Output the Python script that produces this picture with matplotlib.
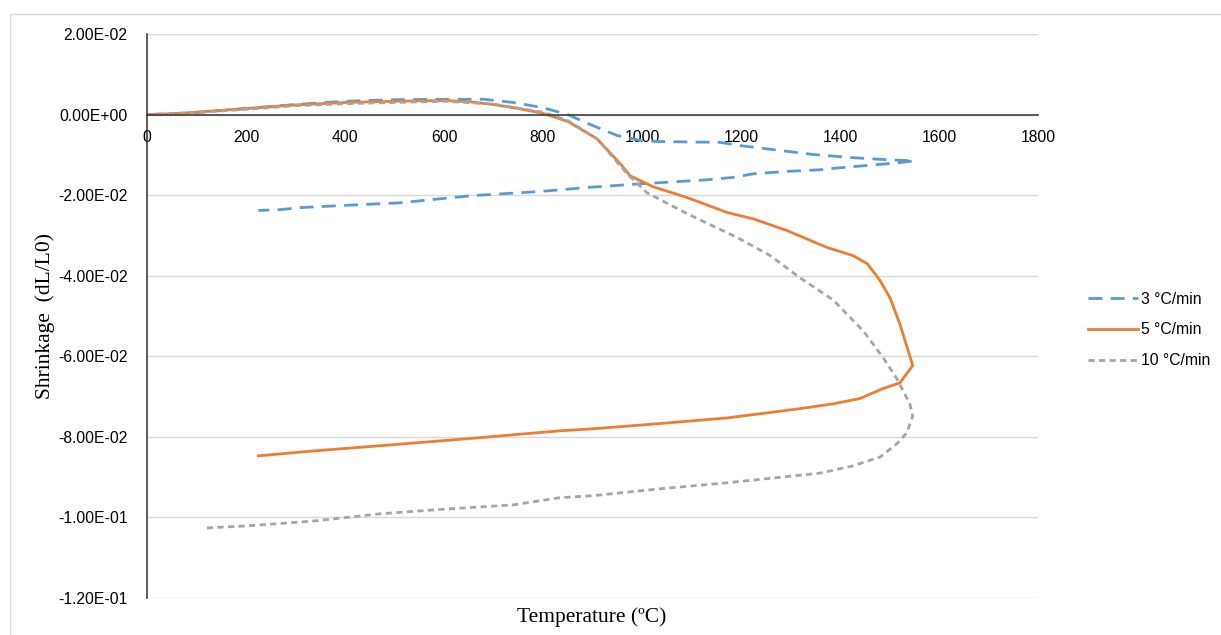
import matplotlib
matplotlib.use("Agg")
import matplotlib.pyplot as plt
from matplotlib.patches import Rectangle
from matplotlib.ticker import FuncFormatter

# ---- data ----
t_3 = [0, 50, 100, 200, 300, 400, 500, 600, 680, 740, 800, 850, 890, 950, 1000, 1036,
       1158, 1198, 1265, 1345, 1426, 1495, 1550,
       1515, 1400, 1360, 1293, 1225, 1184, 1131, 1077, 996, 889, 794, 659, 592, 511, 390, 309, 269, 225]
s_3 = [0, 0.0002, 0.0005, 0.0015, 0.0025, 0.0033, 0.0037, 0.0038, 0.0038, 0.0030, 0.0017, 0.0, -0.0022, -0.0052, -0.0065, -0.0067,
       -0.0069, -0.0077, -0.0087, -0.0099, -0.0107, -0.0112, -0.0115,
       -0.0120, -0.0132, -0.0137, -0.0141, -0.0147, -0.0156, -0.0162, -0.0166, -0.0172, -0.0181, -0.0191, -0.0201, -0.0209, -0.0219, -0.0226, -0.0231, -0.0236, -0.0238]

t_5 = [0, 50, 100, 200, 300, 400, 500, 600, 650, 700, 750, 800, 850, 909, 956, 976, 1022, 1091, 1172, 1225, 1293,
       1374, 1426, 1455, 1481, 1501, 1521, 1547,
       1521, 1487, 1440, 1386, 1319, 1172, 1036, 901, 834, 673, 471, 336, 225]
s_5 = [0, 0.0002, 0.0006, 0.0015, 0.0024, 0.0030, 0.0033, 0.0035, 0.0032, 0.0025, 0.0015, 0.0003, -0.0017, -0.0060, -0.0122, -0.0152, -0.0179, -0.0206, -0.0243, -0.0259, -0.0288,
       -0.0330, -0.0350, -0.0370, -0.0412, -0.0455, -0.0520, -0.0623,
       -0.0666, -0.0680, -0.0705, -0.0718, -0.0730, -0.0753, -0.0767, -0.0780, -0.0785, -0.0802, -0.0822, -0.0835, -0.0847]

t_10 = [0, 50, 100, 200, 300, 400, 500, 600, 700, 800, 850, 909, 970, 1010, 1091, 1192, 1259, 1319, 1386, 1447, 1487, 1515, 1541, 1547,
        1535, 1515, 1481, 1426, 1360, 1305, 1172, 1036, 901, 834, 739, 606, 471, 336, 202, 121]
s_10 = [0, 0.0002, 0.0005, 0.0013, 0.0022, 0.0027, 0.0030, 0.0033, 0.0026, 0.0006, -0.0015, -0.0060, -0.0147, -0.0194, -0.0246, -0.0305, -0.0350, -0.0405, -0.0460, -0.0537, -0.0603, -0.0656, -0.0718, -0.0748,
        -0.0790, -0.0817, -0.0850, -0.0872, -0.0890, -0.0897, -0.0914, -0.0929, -0.0946, -0.0951, -0.0969, -0.0979, -0.0991, -0.1009, -0.1021, -0.1026]

labels = ["3 °C/min", "5 °C/min", "10 °C/min"]
x_ticks = [0, 200, 400, 600, 800, 1000, 1200, 1400, 1600, 1800]
y_ticks = [0.02, 0.0, -0.02, -0.04, -0.06, -0.08, -0.10, -0.12]

W, H = 1221, 635
fig = plt.figure(figsize=(W / 100, H / 100), dpi=100)
fig.patch.set_facecolor("white")
fig.patches.append(Rectangle((10 / W, -0.01), 1.1, 1 - 14 / H + 0.01, transform=fig.transFigure,
                             fill=False, edgecolor="#d9d9d9", linewidth=1.0))

ax = fig.add_axes([147 / W, 1 - 598 / H, (1038 - 147) / W, (598 - 34) / H])

l3, = ax.plot(t_3, s_3, color="#5B9BD5", lw=2.0, dashes=(5, 3), label=labels[0])
l5, = ax.plot(t_5, s_5, color="#ED7D31", lw=2.0, label=labels[1])
l10, = ax.plot(t_10, s_10, color="#A5A5A5", lw=2.0, dashes=(2.2, 1.6), label=labels[2])

ax.set_xlim(0, 1800)
ax.set_ylim(-0.12, 0.02)
ax.set_xticks(x_ticks)
ax.set_yticks(y_ticks)
ax.yaxis.set_major_formatter(FuncFormatter(lambda v, p: "0.00E+00" if abs(v) < 1e-12 else
                                           ("%.2E" % v)))
ax.grid(axis="y", color="#d9d9d9", lw=1.0)
ax.set_axisbelow(True)
for s in ["top", "right"]:
    ax.spines[s].set_visible(False)
ax.spines["bottom"].set_position(("data", 0))
ax.spines["bottom"].set_color("#404040")
ax.spines["left"].set_color("#404040")
ax.spines["bottom"].set_linewidth(1.2)
ax.spines["left"].set_linewidth(1.2)
ax.tick_params(axis="both", length=0, labelsize=11.3)
ax.tick_params(axis="x", pad=11)
ax.tick_params(axis="y", pad=14)
for lab in ax.get_xticklabels() + ax.get_yticklabels():
    lab.set_fontfamily("Liberation Sans")

fig.text(592 / W, 1 - 617 / H, "Temperature (ºC)", ha="center", va="center",
         family="Liberation Serif", fontsize=15.5)
fig.text(45 / W, 1 - 316 / H, "Shrinkage  (dL/L0)", ha="center", va="center", rotation=90,
         family="Liberation Serif", fontsize=15.5)

fig.legend(handles=[l3, l5, l10], labels=labels, loc="center left",
           bbox_to_anchor=(1074 / W, 1 - 330 / H), frameon=False,
           prop={"family": "Liberation Sans", "size": 11.3}, handlelength=3.2,
           handletextpad=0.15, labelspacing=1.0)

fig.savefig("out.png", dpi=100)
